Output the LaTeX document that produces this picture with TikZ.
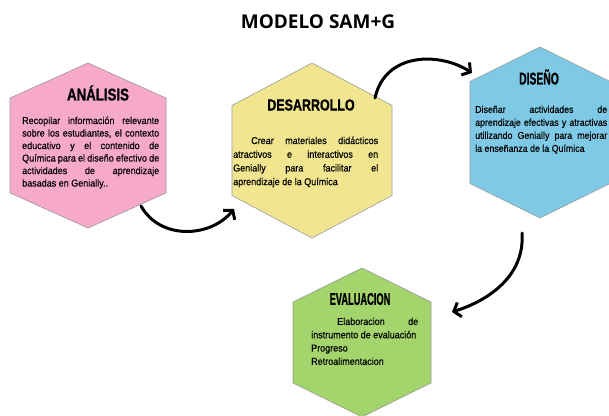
\documentclass[tikz,border=0pt]{standalone}
\usepackage{fontspec}
\setmainfont{Liberation Sans}
\newfontfamily\headfont{Open Sans}
\newfontfamily\hexfont[FakeStretch=0.9,FakeBold=0.4]{Liberation Sans}
\newfontfamily\hexheadfont[FakeStretch=0.78,BoldFeatures={FakeBold=1}]{Liberation Sans}
\usetikzlibrary{arrows.meta}

\definecolor{anapink}{HTML}{F6A9C9}
\definecolor{desyellow}{HTML}{F1E68F}
\definecolor{disblue}{HTML}{7ECAE6}
\definecolor{evagreen}{HTML}{A4D46C}
\definecolor{hexedge}{HTML}{9A9A9A}

\hyphenpenalty=10000
\exhyphenpenalty=10000
\tolerance=9999
\emergencystretch=20pt

% centre x, centre y, half width, half height, side offset, colour
\newcommand{\hexcell}[6]{%
  \draw[hexcell,fill=#6] (#1,#2-#4) -- (#1+#3,#2-#5) -- (#1+#3,#2+#5)
    -- (#1,#2+#4) -- (#1-#3,#2+#5) -- (#1-#3,#2-#5) -- cycle;}
\newcommand{\hextitle}[2]{\scalebox{#1}[1]{#2}}

\begin{document}
\begin{tikzpicture}[
  x=1pt, y=-1pt,
  hexcell/.style={draw=hexedge,line width=0.6pt},
  hexhead/.style={font=\hexheadfont\bfseries\fontsize{17}{17}\selectfont,inner sep=0pt},
  hexbody/.style={font=\hexfont\fontsize{10}{12.5}\selectfont,align=justify,
    anchor=north west,inner sep=0pt},
  flow/.style={line width=3pt,line cap=round,-{Straight Barb[length=6pt,width=15pt]}}
]
  \useasboundingbox (0,0) rectangle (609,415);
  \node[font=\headfont\bfseries\fontsize{19}{19}\selectfont,inner sep=0pt] (title) at (318,22) {MODELO SAM+G};

  \hexcell{88}{145.5}{78}{82.5}{47.5}{anapink}
  \hexcell{312}{150.5}{80}{87.5}{45}{desyellow}
  \hexcell{540}{132.5}{70}{85.5}{51}{disblue}
  \hexcell{362}{342.5}{69}{74.5}{40.5}{evagreen}

  \node[hexhead] (ana) at (98,93) {ANÁLISIS};
  \node[hexbody,text width=137pt] (anatext) at (22,116.5)
    {Recopilar información relevante\linebreak
     sobre los estudiantes, el contexto\linebreak
     educativo y el contenido de\linebreak
     Química para el diseño efectivo de\linebreak
     actividades de aprendizaje\linebreak
     basadas en Genially..};

  \node[hexhead,font=\hexheadfont\bfseries\fontsize{16}{16}\selectfont] (des) at (311,105) {DESARROLLO};
  \node[hexbody,text width=145pt,font=\hexfont\fontsize{10}{13.7}\selectfont] (destext) at (233,136.5)
    {\hspace*{18pt}Crear materiales didácticos\linebreak
     atractivos e interactivos en\linebreak
     Genially para facilitar el\linebreak
     aprendizaje de la Química};

  \node[hexhead] (dis) at (539,77) {\hextitle{0.78}{DISEÑO}};
  \node[hexbody,text width=132pt,font=\hexfont\fontsize{9.8}{13}\selectfont] (distext) at (475,105.5)
    {Diseñar actividades de\linebreak
     aprendizaje efectivas y atractivas\linebreak
     utilizando Genially para mejorar\linebreak
     la enseñanza de la Química};

  \node[hexhead] (eva) at (360,299) {\hextitle{0.7}{EVALUACION}};
  \node[hexbody,text width=107pt,font=\hexfont\fontsize{10}{13.3}\selectfont] (evatext) at (311,317.5)
    {\hspace*{26pt}Elaboracion de\linebreak
     instrumento de evaluación\\Progreso\\Retroalimentacion};

  % connectors
  \coordinate (a1s) at (141,206);
  \coordinate (a1e) at (234,209);
  \coordinate (a2s) at (375,98);
  \coordinate (a2e) at (472,73);
  \coordinate (a3s) at (522,233);
  \coordinate (a3e) at (452,312);
  \draw[flow] (a1s) .. controls (160,240) and (210,238) .. (a1e);
  \draw[flow] (a2s) .. controls (385,52) and (440,52) .. (a2e);
  \draw[flow] (a3s) .. controls (525,275) and (490,300) .. (a3e);
\end{tikzpicture}
\end{document}
